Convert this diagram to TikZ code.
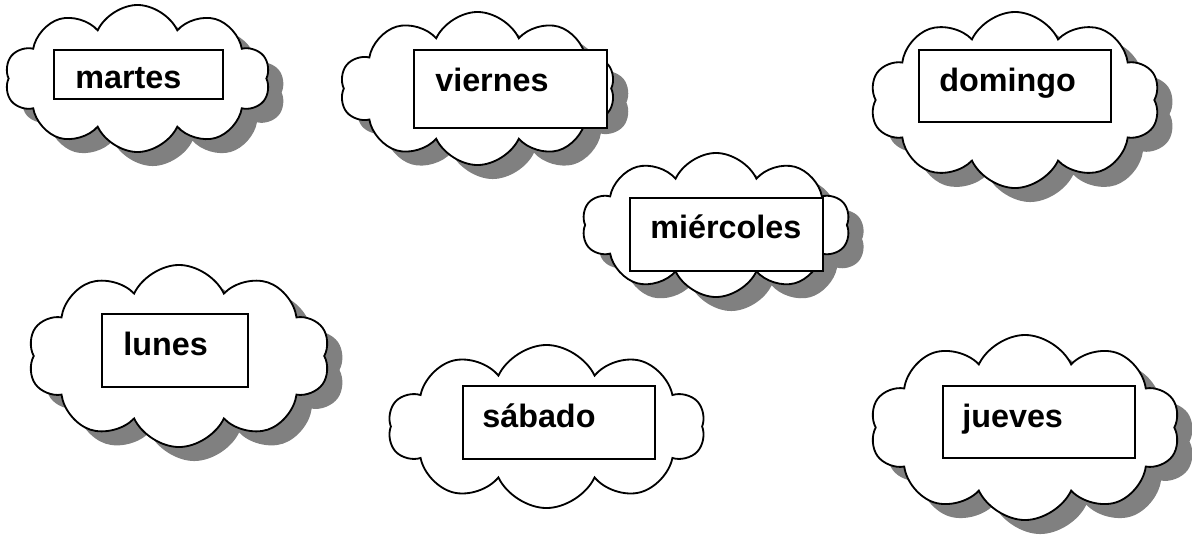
\documentclass[tikz,border=0pt]{standalone}
\usepackage{fontspec}
\setmainfont{Liberation Sans}
\usepackage{tikz}
\usetikzlibrary{shapes.symbols,shadows}
\tikzset{
nube/.style = {draw, fill=white, cloud, cloud puffs=10, cloud puff arc=130, cloud ignores aspect, line width=1.3pt, inner sep=0pt},
sombra/.style = {drop shadow={shadow xshift=3.8mm, shadow yshift=-3.5mm, fill=black!50, opacity=1}},
caja/.style = {draw, fill=white, rectangle, anchor=north west, line width=1.2pt, inner sep=0pt},
dia/.style = {font=\bfseries\fontsize{23}{27}\selectfont, anchor=base west, inner sep=0pt}
}

\begin{document}
\begin{tikzpicture}[x=0.025cm, y=-0.025cm]
  \useasboundingbox (0,0) rectangle (1192,535);
  % nubes
  \node [nube, sombra, minimum width=66.25mm, minimum height=36.75mm] (nmartes) at (137.5,78.5) {};
  \node [nube, sombra, minimum width=68.75mm, minimum height=38.25mm] (nviernes) at (477.5,88.5) {};
  \node [nube, sombra, minimum width=72.5mm, minimum height=44mm] (ndomingo) at (1015,100) {};
  \node [nube, sombra, minimum width=67mm, minimum height=36mm] (nmiercoles) at (716,225) {};
  \node [nube, sombra, minimum width=75.5mm, minimum height=45.5mm] (nlunes) at (179,356) {};
  \node [nube, minimum width=79.25mm, minimum height=40.75mm] (nsabado) at (546.5,426.5) {};
  \node [nube, sombra, minimum width=77.5mm, minimum height=46.25mm] (njueves) at (1025,427.5) {};
  % cajas
  \node [caja, minimum width=42.25mm, minimum height=12.25mm] (cmartes) at (53,49) {};
  \node [caja, minimum width=48.25mm, minimum height=19.5mm] (cviernes) at (413,49) {};
  \node [caja, minimum width=48mm, minimum height=18mm] (cdomingo) at (918,49) {};
  \node [caja, minimum width=48.25mm, minimum height=18.25mm] (cmiercoles) at (629,197) {};
  \node [caja, minimum width=36.5mm, minimum height=18.25mm] (clunes) at (101,313) {};
  \node [caja, minimum width=48mm, minimum height=18.25mm] (csabado) at (462,385) {};
  \node [caja, minimum width=48mm, minimum height=18mm] (cjueves) at (942,385) {};
  % textos
  \node [dia] (tmartes) at (75,88) {martes};
  \node [dia] (tviernes) at (435,91) {viernes};
  \node [dia] (tdomingo) at (939,91) {domingo};
  \node [dia] (tmiercoles) at (650,238) {miércoles};
  \node [dia] (tlunes) at (123,355) {lunes};
  \node [dia] (tsabado) at (482,427) {sábado};
  \node [dia] (tjueves) at (962,427) {jueves};
\end{tikzpicture}
\end{document}
